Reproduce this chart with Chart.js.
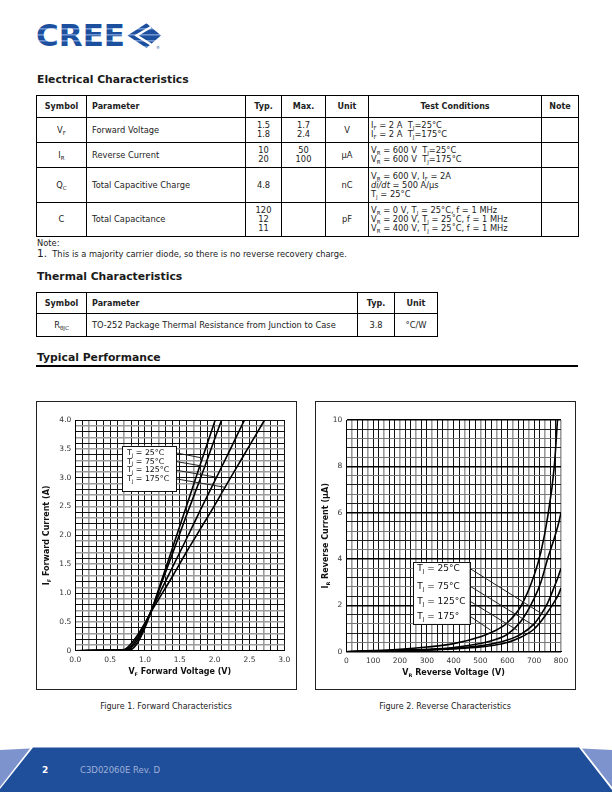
<!DOCTYPE html>
<html>
<head>
<meta charset="utf-8">
<script src="https://cdn.jsdelivr.net/npm/chart.js@4.4.0/dist/chart.umd.min.js"></script>
<style>
  body { margin: 0; width: 612px; height: 792px; position: relative; background: #fff; font-family: "DejaVu Sans", sans-serif; color: #222; overflow: hidden; }
  .abs { position: absolute; }
  h2 { position: absolute; margin: 0; font: bold 10.8px "DejaVu Sans"; color: #1a1a1a; white-space: nowrap; }
  table { position: absolute; border-collapse: collapse; table-layout: fixed; font: 8.3px "DejaVu Sans"; color: #222; }
  td, th { border: 1px solid #000; padding: 0 3px; line-height: 9px; text-align: center; white-space: nowrap; overflow: hidden; }
  th { font-weight: bold; font-size: 8px; }
  .l { text-align: left; padding-left: 5px; }
  .tc { text-align: left; padding-left: 2px; }
  sub { font-size: 5.5px; vertical-align: -2px; line-height: 0; }
  .frame { position: absolute; border: 1px solid #222; box-sizing: border-box; width: 261px; height: 289px; }
  .frame canvas { position: absolute; left: 0; top: 0; }
  .cap { position: absolute; font: 8px "DejaVu Sans"; color: #222; text-align: center; width: 220px; }
</style>
</head>
<body>

<svg class="abs" style="left:30px;top:18px" width="140" height="36" viewBox="30 18 140 36">
  <defs>
    <pattern id="stripes" patternUnits="userSpaceOnUse" width="10" height="6">
      <rect width="10" height="6" fill="#1c4f9e"/>
      <rect y="4" width="10" height="1.6" fill="#6f93cf"/>
    </pattern>
  </defs>
  <text x="36" y="46" font-family="DejaVu Sans" font-weight="bold" font-size="31" textLength="89" lengthAdjust="spacingAndGlyphs" fill="url(#stripes)">CREE</text>
  <polygon points="127.5,35.5 146.5,23.3 161,35.5 146.5,48" fill="url(#stripes)"/>
  <polyline points="151,27 136.5,35.5 151,44.5" fill="none" stroke="#fff" stroke-width="2.4"/>
  <text x="156" y="49" font-family="DejaVu Sans" font-size="4" fill="#1c4f9e">®</text>
</svg>

<h2 style="left:37px;top:73px">Electrical Characteristics</h2>
<table style="left:36px;top:95px;width:542px">
  <colgroup><col style="width:50px"><col style="width:159px"><col style="width:36px"><col style="width:44px"><col style="width:43px"><col style="width:173px"><col style="width:37px"></colgroup>
  <tr style="height:22px"><th>Symbol</th><th class="l">Parameter</th><th>Typ.</th><th>Max.</th><th>Unit</th><th>Test Conditions</th><th>Note</th></tr>
  <tr style="height:25px"><td>V<sub>F</sub></td><td class="l">Forward Voltage</td><td>1.5<br>1.8</td><td>1.7<br>2.4</td><td>V</td><td class="tc">I<sub>F</sub> = 2 A&nbsp; T<sub>J</sub>=25°C<br>I<sub>F</sub> = 2 A&nbsp; T<sub>J</sub>=175°C</td><td></td></tr>
  <tr style="height:25px"><td>I<sub>R</sub></td><td class="l">Reverse Current</td><td>10<br>20</td><td>50<br>100</td><td>µA</td><td class="tc">V<sub>R</sub> = 600 V&nbsp; T<sub>J</sub>=25°C<br>V<sub>R</sub> = 600 V&nbsp; T<sub>J</sub>=175°C</td><td></td></tr>
  <tr style="height:35px"><td>Q<sub>C</sub></td><td class="l">Total Capacitive Charge</td><td>4.8</td><td></td><td>nC</td><td class="tc">V<sub>R</sub> = 600 V, I<sub>F</sub> = 2A<br><i>di/dt</i> = 500 A/µs<br>T<sub>J</sub> = 25°C</td><td></td></tr>
  <tr style="height:34px"><td>C</td><td class="l">Total Capacitance</td><td>120<br>12<br>11</td><td></td><td>pF</td><td class="tc">V<sub>R</sub> = 0 V, T<sub>J</sub> = 25°C, f = 1 MHz<br>V<sub>R</sub> = 200 V, T<sub>J</sub> = 25˚C, f = 1 MHz<br>V<sub>R</sub> = 400 V, T<sub>J</sub> = 25˚C, f = 1 MHz</td><td></td></tr>
</table>
<div class="abs" style="left:37px;top:238px;font-size:8.3px">Note:</div>
<div class="abs" style="left:37px;top:247px;font-size:8.3px;white-space:nowrap"><span style="font-size:10.5px">1.</span>&nbsp; This is a majority carrier diode, so there is no reverse recovery charge.</div>

<h2 style="left:37px;top:270px">Thermal Characteristics</h2>
<table style="left:36px;top:292px;width:401px">
  <colgroup><col style="width:50px"><col style="width:271px"><col style="width:37px"><col style="width:43px"></colgroup>
  <tr style="height:21px"><th>Symbol</th><th class="l">Parameter</th><th>Typ.</th><th>Unit</th></tr>
  <tr style="height:23px"><td>R<sub>θJC</sub></td><td class="l">TO-252 Package Thermal Resistance from Junction to Case</td><td>3.8</td><td>°C/W</td></tr>
</table>

<h2 style="left:37px;top:351px">Typical Performance</h2>
<div class="abs" style="left:36px;top:365px;width:542px;height:2px;background:#000"></div>

<div class="frame" style="left:36px;top:401px"><canvas id="fwdChart" width="259" height="287"></canvas></div>
<div class="frame" style="left:315px;top:401px"><canvas id="revChart" width="259" height="287"></canvas></div>
<div class="cap" style="left:56px;top:702px">Figure 1. Forward Characteristics</div>
<div class="cap" style="left:335px;top:702px">Figure 2. Reverse Characteristics</div>

<svg class="abs" style="left:0;top:744px" width="612" height="48" viewBox="0 744 612 48">
  <polygon points="33,747.5 579,747.5 612,790 612,792 0,792 0,789" fill="#1f4f9b"/>
  <polygon points="0,750 30,748.5 0,787" fill="#7d93cd"/>
  <polygon points="612,750 582,748.5 612,787" fill="#7d93cd"/>
</svg>
<div class="abs" style="left:42px;top:765px;font:bold 9px 'DejaVu Sans';color:#fff">2</div>
<div class="abs" style="left:80px;top:765px;font:8.5px 'DejaVu Sans';color:#9fb0d8">C3D02060E Rev. D</div>

<script>
// Forward characteristics: I_F (A) vs V_F (V)
const fwdVolts = [0, 0.5, 0.7, 0.8, 0.9, 1.0, 1.1, 1.2, 1.4, 1.6, 1.8, 2.0, 2.2, 2.4, 2.6, 2.8];
const fwd25  = [0, 0.005, 0.008, 0.02, 0.15, 0.40, 0.72, 1.08, 1.80, 2.52, 3.25, 3.97, 4.70, 5.40, 6.10, 6.80];
const fwd75  = [0, 0.008, 0.012, 0.05, 0.20, 0.44, 0.72, 1.05, 1.70, 2.36, 3.00, 3.67, 4.33, 5.00, 5.60, 6.30];
const fwd125 = [0, 0.01, 0.015, 0.08, 0.24, 0.46, 0.72, 0.97, 1.46, 1.95, 2.45, 2.94, 3.43, 3.93, 4.40, 4.90];
const fwd175 = [0, 0.012, 0.02, 0.12, 0.28, 0.48, 0.70, 0.90, 1.30, 1.72, 2.12, 2.52, 2.94, 3.35, 3.76, 4.17];

// Reverse characteristics: I_R (uA) vs V_R (V)
const revVolts = [0, 100, 200, 300, 400, 500, 550, 600, 650, 700, 725, 750, 775, 790, 800];
const rev175 = [0, 0.05, 0.10, 0.20, 0.35, 0.65, 0.88, 1.25, 1.95, 3.30, 4.30, 5.80, 8.00, 10.6, 12.5];
const rev125 = [0, 0.03, 0.06, 0.10, 0.18, 0.35, 0.50, 0.75, 1.30, 2.30, 3.00, 4.00, 4.90, 5.50, 6.00];
const rev75  = [0, 0.02, 0.05, 0.08, 0.15, 0.25, 0.35, 0.50, 0.75, 1.20, 1.60, 2.10, 2.80, 3.25, 3.60];
const rev25  = [0, 0.02, 0.04, 0.07, 0.12, 0.20, 0.28, 0.40, 0.62, 0.98, 1.30, 1.70, 2.15, 2.45, 2.75];

const tempLabels = ['25°C', '75°C', '125°C', '175°C'];
const revTempLabels = ['25°C', '75°C', '125°C', '175°'];

function pts(xs, ys) {
  return xs.map((v, i) => ({ x: v, y: ys[i] }));
}

function curve(label, xs, ys) {
  return {
    label: label,
    data: pts(xs, ys),
    showLine: true,
    borderColor: '#000',
    borderWidth: 1.6,
    pointRadius: 0,
    cubicInterpolationMode: 'monotone'
  };
}

function drawSubText(ctx, parts, x, y, size, bold, align) {
  const font = s => (bold ? 'bold ' : '') + s + 'px "DejaVu Sans"';
  let w = 0;
  parts.forEach(p => { ctx.font = font(p[1] ? size * 0.62 : size); w += ctx.measureText(p[0]).width; });
  let cx = align === 'center' ? x - w / 2 : x;
  parts.forEach(p => {
    ctx.font = font(p[1] ? size * 0.62 : size);
    ctx.fillText(p[0], cx, p[1] ? y + size * 0.32 : y);
    cx += ctx.measureText(p[0]).width;
  });
}

const notesPlugin = {
  id: 'notes',
  afterDatasetsDraw(chart, args, opts) {
    const { ctx, chartArea } = chart;
    const xs = chart.scales.x, ys = chart.scales.y;
    ctx.save();
    ctx.fillStyle = '#111';
    ctx.textBaseline = 'middle';

    // leader lines
    ctx.strokeStyle = '#222';
    ctx.lineWidth = 1;
    opts.leaders.forEach(l => {
      ctx.beginPath();
      ctx.moveTo(xs.getPixelForValue(l[0]), ys.getPixelForValue(l[1]));
      ctx.lineTo(xs.getPixelForValue(l[2]), ys.getPixelForValue(l[3]));
      ctx.stroke();
    });

    // legend box
    const b = opts.box;
    const x0 = xs.getPixelForValue(b[0]), x1 = xs.getPixelForValue(b[1]);
    const y0 = ys.getPixelForValue(b[2]), y1 = ys.getPixelForValue(b[3]);
    ctx.fillStyle = '#fff';
    ctx.fillRect(x0, y0, x1 - x0, y1 - y0);
    ctx.strokeStyle = '#111';
    ctx.strokeRect(Math.round(x0) + 0.5, Math.round(y0) + 0.5, Math.round(x1 - x0), Math.round(y1 - y0));
    ctx.fillStyle = '#111';
    opts.labels.forEach((t, i) => {
      drawSubText(ctx, [['T', 0], ['J', 1], [' = ' + t, 0]], xs.getPixelForValue(opts.textX), ys.getPixelForValue(opts.leaders[i][1]), opts.fontSize, false, 'left');
    });

    // axis titles
    drawSubText(ctx, opts.xTitle, (chartArea.left + chartArea.right) / 2, opts.xTitleY, 8, true, 'center');
    ctx.translate(opts.yTitleX, (chartArea.top + chartArea.bottom) / 2);
    ctx.rotate(-Math.PI / 2);
    drawSubText(ctx, opts.yTitle, 0, 0, 8, true, 'center');
    ctx.restore();
  }
};

const tickFont = { family: 'DejaVu Sans', size: 7.5 };

new Chart(document.getElementById('fwdChart').getContext('2d'), {
  type: 'scatter',
  data: {
    datasets: [
      curve(tempLabels[0], fwdVolts, fwd25),
      curve(tempLabels[1], fwdVolts, fwd75),
      curve(tempLabels[2], fwdVolts, fwd125),
      curve(tempLabels[3], fwdVolts, fwd175)
    ]
  },
  options: {
    responsive: false,
    animation: false,
    layout: { padding: { top: 18, right: 11.7, left: 0, bottom: 0 } },
    plugins: {
      legend: { display: false },
      tooltip: { enabled: false },
      notes: {
        box: [0.67, 1.445, 3.555, 2.77],
        textX: 0.745,
        fontSize: 7.8,
        labels: tempLabels,
        leaders: [
          [1.445, 3.43, 1.829, 3.34],
          [1.445, 3.28, 1.876, 3.19],
          [1.445, 3.13, 2.02, 3.01],
          [1.445, 2.98, 2.163, 2.83]
        ],
        xTitle: [['V', 0], ['F', 1], [' Forward Voltage (V)', 0]],
        yTitle: [['I', 0], ['F', 1], [' Forward Current (A)', 0]],
        xTitleY: 270,
        yTitleX: 10
      }
    },
    scales: {
      x: {
        type: 'linear', min: 0, max: 3,
        afterFit: s => { s.height = 38.3; },
        border: { display: true, color: '#000' },
        grid: {
          drawTicks: false,
          color: c => (c.index % 5 === 2 ? '#9c9c9c' : '#111'),
          lineWidth: c => (c.index % 5 === 2 ? 1.6 : 1)
        },
        ticks: {
          stepSize: 0.1, autoSkip: false, maxRotation: 0, padding: 5, color: '#333', font: tickFont,
          callback: v => (Math.round(v * 10) % 5 === 0 ? v.toFixed(1) : '')
        }
      },
      y: {
        type: 'linear', min: 0, max: 4,
        afterFit: s => { s.width = 38.3; },
        border: { display: true, color: '#000' },
        grid: {
          drawTicks: false,
          color: c => (c.index % 2 === 1 ? '#9c9c9c' : '#111'),
          lineWidth: c => (c.index % 2 === 1 ? 1.5 : 1)
        },
        ticks: {
          stepSize: 0.1, autoSkip: false, padding: 4, color: '#333', font: tickFont,
          callback: v => (v === 0 ? '0' : (Math.round(v * 10) % 5 === 0 ? v.toFixed(1) : ''))
        }
      }
    }
  },
  plugins: [notesPlugin]
});

new Chart(document.getElementById('revChart').getContext('2d'), {
  type: 'scatter',
  data: {
    datasets: [
      curve(revTempLabels[0], revVolts, rev25),
      curve(revTempLabels[1], revVolts, rev75),
      curve(revTempLabels[2], revVolts, rev125),
      curve(revTempLabels[3], revVolts, rev175)
    ]
  },
  options: {
    responsive: false,
    animation: false,
    layout: { padding: { top: 18, right: 14, left: 0, bottom: 0 } },
    plugins: {
      legend: { display: false },
      tooltip: { enabled: false },
      notes: {
        box: [248, 459.5, 3.88, 1.2],
        textX: 264,
        fontSize: 9,
        labels: revTempLabels,
        leaders: [
          [463.5, 3.57, 736.6, 1.58],
          [463.5, 2.81, 705.7, 1.08],
          [463.5, 2.16, 637, 0.93],
          [463.5, 1.51, 538, 0.93]
        ],
        xTitle: [['V', 0], ['R', 1], [' Reverse Voltage (V)', 0]],
        yTitle: [['I', 0], ['R', 1], [' Reverse Current (µA)', 0]],
        xTitleY: 271,
        yTitleX: 10
      }
    },
    scales: {
      x: {
        type: 'linear', min: 0, max: 800,
        afterFit: s => { s.height = 37.3; },
        border: { display: true, color: '#000' },
        grid: {
          drawTicks: false,
          color: c => (c.index % 3 === 1 ? '#9c9c9c' : '#111'),
          lineWidth: c => (c.index % 3 === 1 ? 1.6 : 1)
        },
        ticks: {
          stepSize: 20, autoSkip: false, maxRotation: 0, padding: 5, color: '#333', font: tickFont,
          callback: v => (v % 100 === 0 ? String(v) : '')
        }
      },
      y: {
        type: 'linear', min: 0, max: 10,
        afterFit: s => { s.width = 30.3; },
        border: { display: true, color: '#000' },
        grid: {
          drawTicks: false,
          color: c => (c.index % 5 === 0 ? '#000' : (c.index % 2 === 1 ? '#777' : '#222')),
          lineWidth: c => (c.index % 5 === 0 ? 1.4 : 1)
        },
        ticks: {
          stepSize: 0.4, autoSkip: false, padding: 4, color: '#333', font: tickFont,
          callback: v => (Math.round(v * 10) % 20 === 0 ? String(Math.round(v)) : '')
        }
      }
    }
  },
  plugins: [notesPlugin]
});
</script>
</body>
</html>
